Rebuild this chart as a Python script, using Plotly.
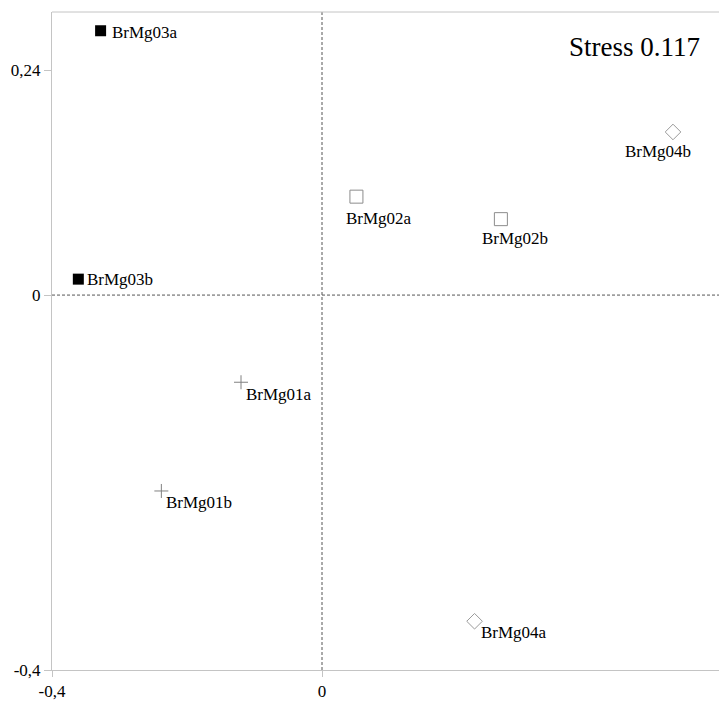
import plotly.graph_objects as go

# Data
names = ["BrMg01a", "BrMg01b", "BrMg02a", "BrMg02b", "BrMg03a", "BrMg03b", "BrMg04a", "BrMg04b"]
x_vals = [-0.120, -0.238, 0.051, 0.265, -0.328, -0.361, 0.226, 0.520]
y_vals = [-0.093, -0.209, 0.105, 0.081, 0.282, 0.017, -0.348, 0.174]
groups = ["01", "01", "02", "02", "03", "03", "04", "04"]
stress_text = "Stress 0.117"
x_ticks = [-0.4, 0]
x_tick_labels = ["-0,4", "0"]
y_ticks = [-0.4, 0, 0.24]
y_tick_labels = ["-0,4", "0", "0,24"]

# Styles
FONT = "Liberation Serif, Times New Roman, serif"
group_style = {
    "01": dict(symbol="cross-thin-open", size=10, color="#808080", line=dict(color="#808080", width=1)),
    "02": dict(symbol="square-open", size=13, color="#8c8c8c", line=dict(color="#8c8c8c", width=1)),
    "03": dict(symbol="square", size=11, color="#000000", line=dict(color="#000000", width=0)),
    "04": dict(symbol="diamond-open", size=12, color="#9a9a9a", line=dict(color="#9a9a9a", width=1)),
}
# per-label offsets in pixels (left edge of text relative to marker, vertical centre shift)
label_offsets = {
    "BrMg01a": (3, -12), "BrMg01b": (3, -12), "BrMg02a": (-12, -22), "BrMg02b": (-21, -19),
    "BrMg03a": (9, -2), "BrMg03b": (7, 0), "BrMg04a": (4, -11), "BrMg04b": (-50, -20),
}

FIG_W = 727  # a little wider than the window so the open right side is clipped
PLOT_W = FIG_W - 52

fig = go.Figure()
for g in ["01", "02", "03", "04"]:
    idx = [i for i, gg in enumerate(groups) if gg == g]
    st = group_style[g]
    fig.add_trace(go.Scatter(
        x=[x_vals[i] for i in idx], y=[y_vals[i] for i in idx], mode="markers",
        marker=dict(symbol=st["symbol"], size=st["size"], color=st["color"], line=st["line"]),
        showlegend=False, hoverinfo="text", text=[names[i] for i in idx],
    ))

for n, xv, yv in zip(names, x_vals, y_vals):
    dx, dy = label_offsets[n]
    fig.add_annotation(x=xv, y=yv, text=n, showarrow=False, xanchor="left", yanchor="middle",
                       xshift=dx, yshift=dy, font=dict(family=FONT, size=17, color="#000"))

fig.add_annotation(xref="paper", yref="paper", x=(702 - 52) / PLOT_W, y=(674 - 47) / 662,
                   text=stress_text, showarrow=False, xanchor="right", yanchor="middle",
                   font=dict(family=FONT, size=27, color="#000"))

# dashed zero lines
fig.add_shape(type="line", xref="x", yref="paper", x0=0, x1=0, y0=0, y1=1,
              line=dict(color="#555", width=1, dash="3px,2px"))
fig.add_shape(type="line", xref="paper", yref="y", x0=0, x1=1, y0=0, y1=0,
              line=dict(color="#555", width=1, dash="3px,2px"))
# top frame line
fig.add_shape(type="line", xref="paper", yref="paper", x0=0, x1=1, y0=1, y1=1,
              line=dict(color="#c4c4c4", width=1))

fig.update_layout(
    width=FIG_W, height=701,
    margin=dict(l=52, r=0, t=12, b=27),
    plot_bgcolor="white", paper_bgcolor="white",
    font=dict(family=FONT, size=17, color="#000"),
    xaxis=dict(range=[-0.4, -0.4 + PLOT_W / 675], showgrid=False, zeroline=False, showline=True,
               linecolor="#c4c4c4", linewidth=1, ticks="outside", ticklen=6,
               tickcolor="#c4c4c4", tickvals=x_ticks, ticktext=x_tick_labels,
               tickfont=dict(family=FONT, size=17)),
    yaxis=dict(range=[-0.4, 0.302], showgrid=False, zeroline=False, showline=True,
               linecolor="#c4c4c4", linewidth=1, ticks="outside", ticklen=7,
               tickcolor="#c4c4c4", tickvals=y_ticks, ticktext=y_tick_labels,
               tickfont=dict(family=FONT, size=17)),
)

fig.write_html("out.html", config={"displayModeBar": False},
               post_script="document.body.style.margin='0';document.body.style.overflow='hidden';")
